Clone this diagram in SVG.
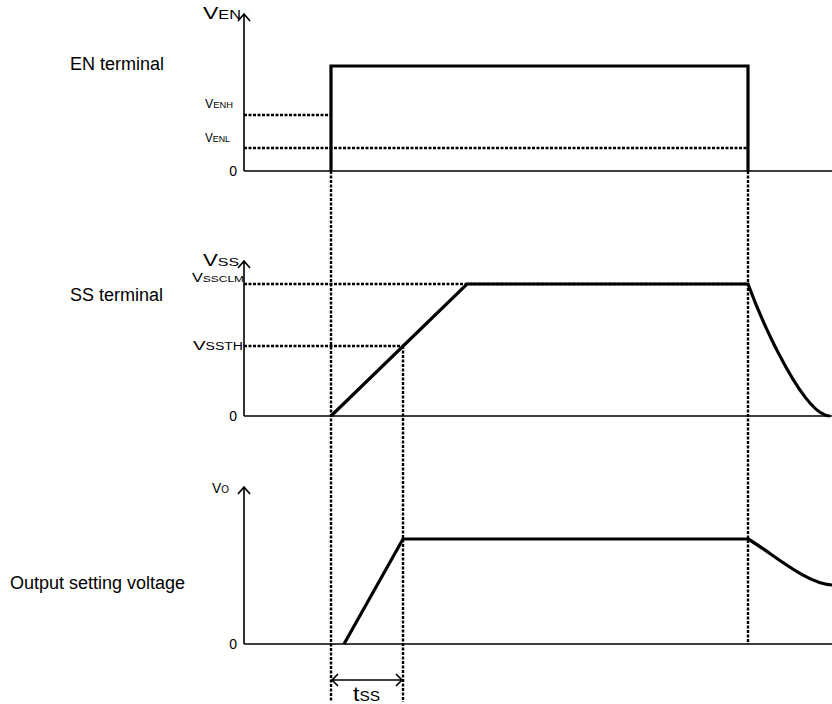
<svg xmlns="http://www.w3.org/2000/svg" width="832" height="704" viewBox="0 0 832 704">
<defs>
<style>
text{font-family:"Liberation Sans",Arial,sans-serif;fill:#000}
.axis{stroke:#000;stroke-width:1.6;fill:none}
.wave{stroke:#000;stroke-width:3.2;fill:none;stroke-linejoin:miter}
.dot{stroke:#000;stroke-width:2.4;stroke-dasharray:3 1.5;fill:none}
.lbl{font-size:18px}
.zero{font-size:14px}
</style>
</defs>
<g id="labels">
<text class="lbl" x="70" y="70">EN terminal</text>
<text class="lbl" x="70" y="301">SS terminal</text>
<text class="lbl" x="10" y="589">Output setting voltage</text>
</g>
<g id="en-axes">
<path class="axis" d="M244,171 V14 M238,21 L244,14 L250,21 M244,171 H832"/>
<text x="203" y="19" textLength="38" lengthAdjust="spacingAndGlyphs"><tspan font-size="17">V</tspan><tspan font-size="12">EN</tspan></text>
<text x="205" y="108" textLength="28" lengthAdjust="spacingAndGlyphs"><tspan font-size="12">V</tspan><tspan font-size="9">ENH</tspan></text>
<text x="205" y="142" textLength="25" lengthAdjust="spacingAndGlyphs"><tspan font-size="12">V</tspan><tspan font-size="9">ENL</tspan></text>
<text class="zero" x="237" y="176" text-anchor="end">0</text>
</g>
<g id="ss-axes">
<path class="axis" d="M244,416 V261 M238,268 L244,261 L250,268 M244,416 H832"/>
<text x="203" y="266" textLength="36" lengthAdjust="spacingAndGlyphs"><tspan font-size="16">V</tspan><tspan font-size="11.5">SS</tspan></text>
<text x="192" y="282" textLength="52" lengthAdjust="spacingAndGlyphs"><tspan font-size="13">V</tspan><tspan font-size="9.5">SSCLM</tspan></text>
<text x="193" y="350" textLength="50" lengthAdjust="spacingAndGlyphs"><tspan font-size="13.5">V</tspan><tspan font-size="10">SSTH</tspan></text>
<text class="zero" x="237" y="421" text-anchor="end">0</text>
</g>
<g id="vo-axes">
<path class="axis" d="M244,644 V487 M238,494 L244,487 L250,494 M244,644 H832"/>
<text x="212" y="493" textLength="17" lengthAdjust="spacingAndGlyphs"><tspan font-size="14">V</tspan><tspan font-size="10">O</tspan></text>
<text class="zero" x="237" y="649" text-anchor="end">0</text>
</g>
<g id="connectors">
<path class="dot" d="M244,115 H331 M244,148 H748"/>
<path class="dot" d="M244,284 H748 M244,346 H403"/>
<path class="dot" d="M331,171 V702 M403,346 V702 M748,171 V644"/>
</g>
<g id="en-wave">
<path class="wave" d="M331,171 V66 H748 V171"/>
</g>
<g id="ss-wave">
<path class="wave" d="M331,416 L467,284 H748 C765,330 805,416 830,416"/>
</g>
<g id="vo-wave">
<path class="wave" d="M344,644 L403,539 H748 C775,555 805,583 832,585"/>
</g>
<g id="tss">
<path class="axis" d="M332,680 H402 M338,674 L332,680 L338,686 M396,674 L402,680 L396,686"/>
<text x="353" y="701" textLength="27" lengthAdjust="spacingAndGlyphs"><tspan font-size="21">t</tspan><tspan font-size="14">SS</tspan></text>
</g>
</svg>
